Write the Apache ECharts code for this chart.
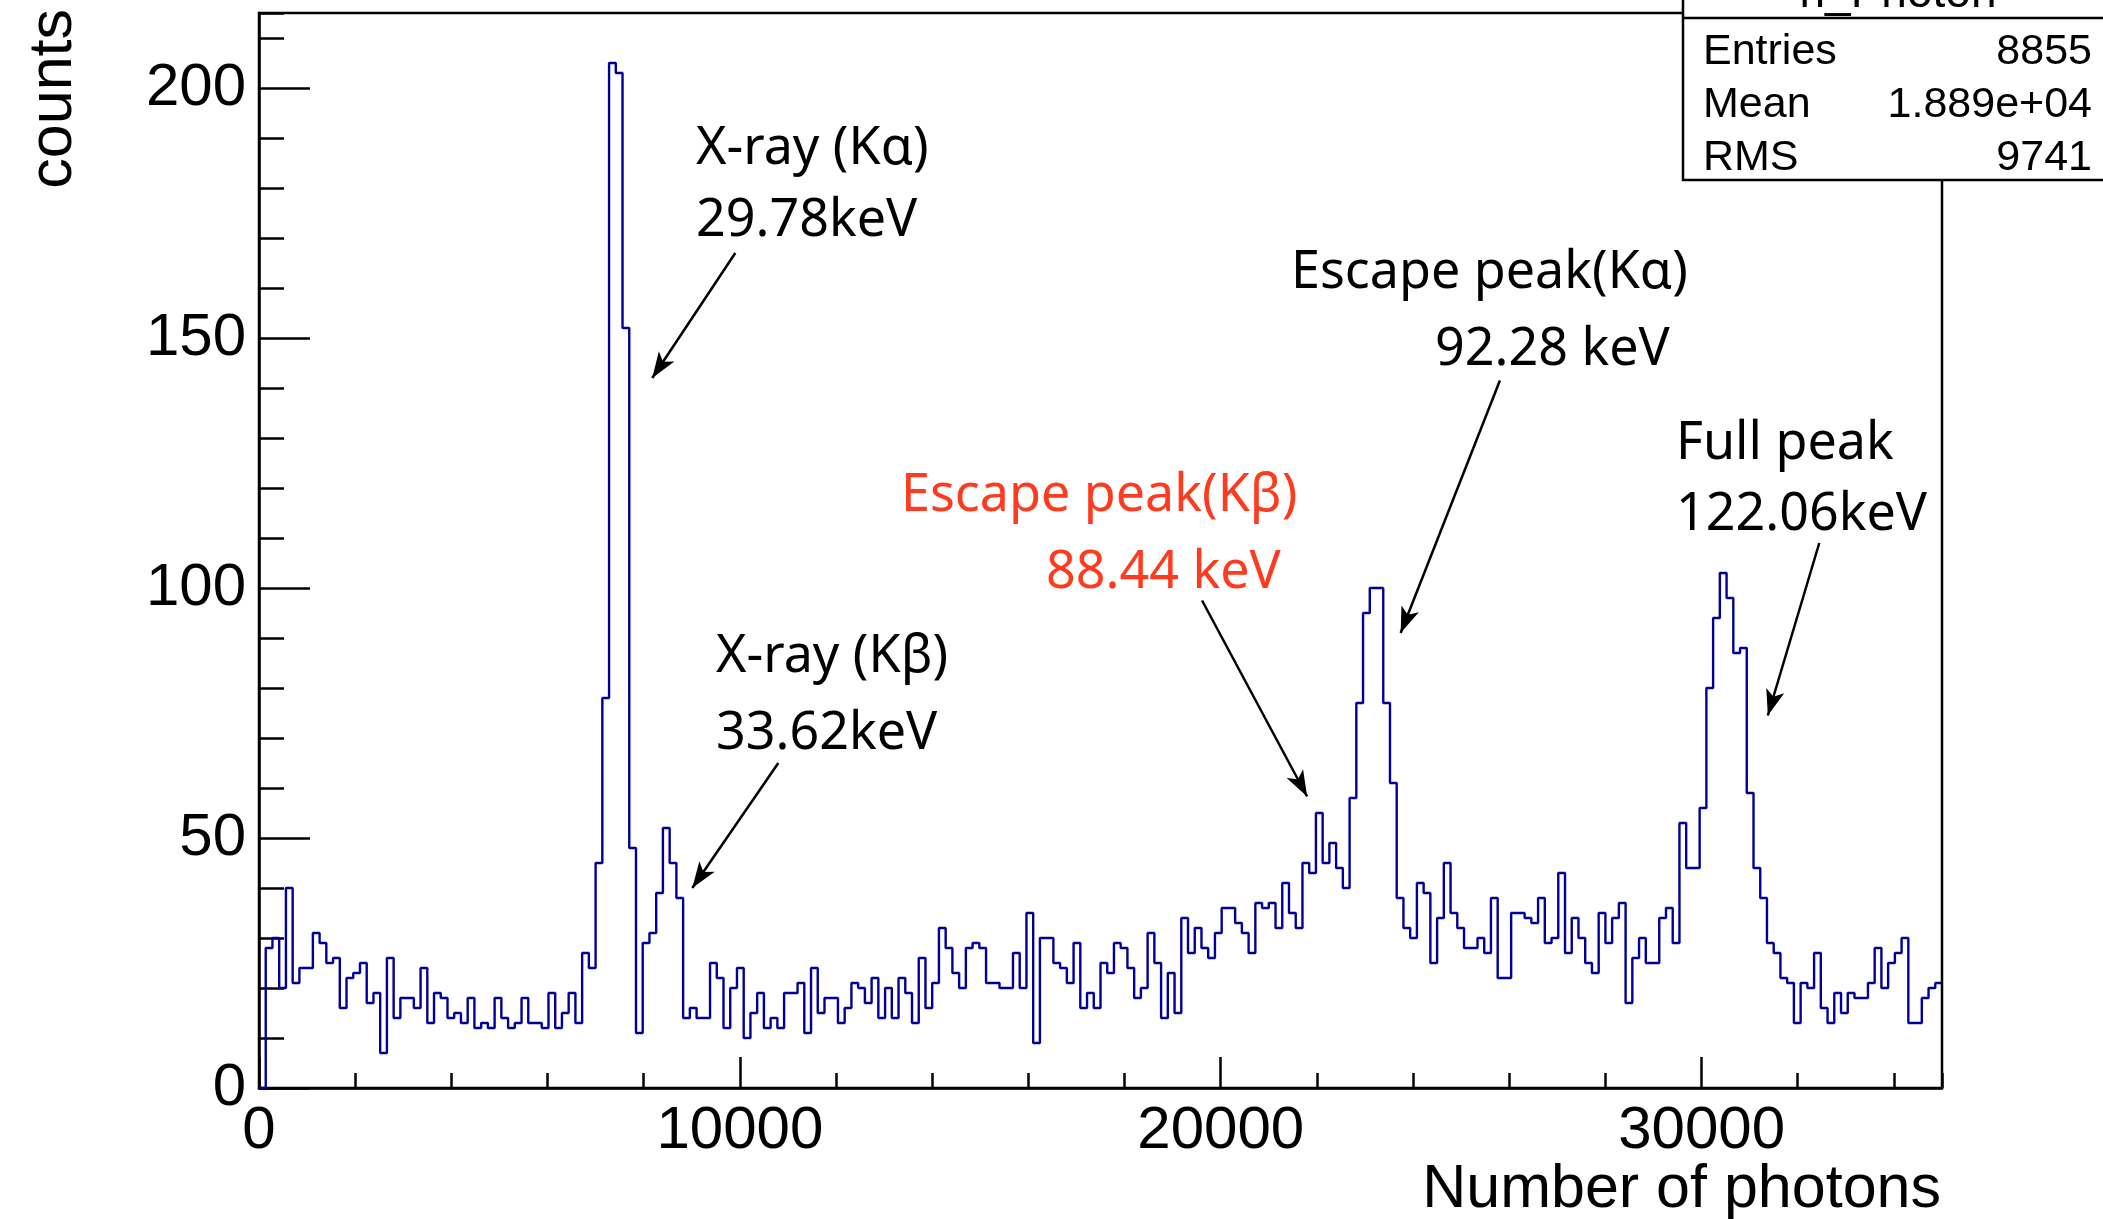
<!DOCTYPE html>
<html>
<head>
<meta charset="utf-8">
<script src="https://cdn.jsdelivr.net/npm/echarts@6/dist/echarts.min.js"></script>
<style>
  html, body { margin: 0; padding: 0; background: #fff; }
  #chart { width: 2103px; height: 1219px; }
</style>
</head>
<body>
<div id="chart"></div>
<script>
// --- binning and counts ---
const BIN_WIDTH = 140;
const X_MAX = 35000;
const Y_MAX = 215;

const counts0 = [0, 28, 30, 20, 40, 21, 24, 24, 31, 29, 25, 26, 16, 22, 23, 25, 17, 19, 7, 26,
  14, 18, 18, 16, 24, 13, 19, 18, 14, 15, 13, 18, 12, 13, 12, 18, 14, 12, 13, 18,
  13, 13, 12, 19, 12, 15, 19, 13, 27, 24];
const counts1 = [45, 78, 205, 203, 152, 48, 11, 29, 31, 39, 52, 45, 38, 14, 16, 14, 14, 25, 22, 12,
  20, 24, 10, 15, 19, 12, 14, 12, 19, 19, 21, 11, 24, 15, 18, 18, 13, 16, 21, 20,
  17, 22, 14, 20, 14, 22, 19, 13, 26, 16];
const counts2 = [21, 32, 28, 23, 20, 28, 29, 28, 21, 21, 20, 20, 27, 20, 35, 9, 30, 30, 25, 24,
  21, 29, 16, 19, 16, 25, 23, 29, 28, 24, 18, 20, 31, 25, 14, 23, 15, 34, 27, 32,
  28, 26, 31, 36, 36, 33, 31, 27, 37, 36];
const counts3 = [37, 32, 41, 35, 32, 45, 43, 55, 45, 49, 44, 40, 58, 77, 95, 100, 100, 77, 61, 38,
  32, 30, 41, 39, 25, 34, 45, 35, 32, 28, 28, 30, 27, 38, 22, 22, 35, 35, 34, 33,
  38, 29, 30, 43, 27, 34, 30, 25, 23, 35];
const counts4 = [29, 34, 37, 17, 26, 30, 25, 25, 34, 36, 29, 53, 44, 44, 56, 80, 94, 103, 98, 87,
  88, 59, 44, 38, 29, 27, 22, 21, 13, 21, 20, 27, 16, 13, 19, 15, 19, 18, 18, 21,
  28, 20, 25, 27, 30, 13, 13, 18, 20, 21];

const counts = counts0.concat(counts1, counts2, counts3, counts4);

// stats box
const statNames = ["Entries", "Mean", "RMS"];
const statValues = ["8855", "1.889e+04", "9741"];

// arrows [from, to] in data coordinates
const arrows = [
  [[9905, 167], [8178, 142]],
  [[10800, 65], [9011, 40]],
  [[19612, 97.5], [21797, 58.3]],
  [[25806, 141.5], [23742, 91]],
  [[32448, 109], [31378, 74.5]],
];

const AXIS_FONT = "'Liberation Sans', Arial, sans-serif";
const NOTE_FONT = "'Noto Sans', sans-serif";
const RED = "#ff3b1f";

// annotation texts: [text, x, y, color]
const notes = [
  ["X-ray (K\u03b1)", 696, 149, "#000"],
  ["29.78keV", 696, 221, "#000"],
  ["Escape peak(K\u03b1)", 1291, 273, "#000"],
  ["92.28 keV", 1435, 350, "#000"],
  ["Full peak", 1676, 444, "#000"],
  ["122.06keV", 1676, 515, "#000"],
  ["Escape peak(K\u03b2)", 901, 496, RED],
  ["88.44 keV", 1046, 573, RED],
  ["X-ray (K\u03b2)", 716, 657, "#000"],
  ["33.62keV", 716, 734, "#000"],
];

const steps = counts.map((c, i) => [i * BIN_WIDTH, c]);
steps.push([counts.length * BIN_WIDTH, counts[counts.length - 1]]);

const chart = echarts.init(document.getElementById("chart"));

const GRID = { left: 259, top: 13, width: 1683, height: 1075 };
const boxLeft = 1683;

function valueAxis(interval, tickLen, withLabels, max) {
  return {
    type: "value",
    min: 0,
    max: max,
    interval: interval,
    splitLine: { show: false },
    axisLine: { show: withLabels, lineStyle: { color: "#000", width: 2.5 } },
    axisTick: { show: true, inside: true, length: tickLen, lineStyle: { color: "#000", width: 2.5 } },
    axisLabel: {
      show: withLabels,
      showMaxLabel: false,
      color: "#000",
      fontFamily: AXIS_FONT,
      fontSize: 60,
      formatter: (v) => String(v),
    },
  };
}

const xMajor = valueAxis(10000, 31, true, X_MAX);
xMajor.position = "bottom";
xMajor.axisLabel.margin = 13;
const xMinor = valueAxis(2000, 15, false, X_MAX);
xMinor.position = "bottom";
const yMajor = valueAxis(50, 51, true, Y_MAX);
yMajor.position = "left";
yMajor.axisLabel.margin = 13;
const yMinor = valueAxis(10, 25, false, Y_MAX);
yMinor.position = "left";

const graphics = [];
notes.forEach(([t, x, y, col]) => {
  graphics.push({
    type: "text", x: x, y: y, z: 50,
    style: { text: t, fill: col, font: "52px " + NOTE_FONT, textAlign: "left", textVerticalAlign: "middle" },
  });
});

// axis titles
graphics.push({
  type: "text", x: 54, y: 9, rotation: Math.PI / 2, z: 50,
  style: { text: "counts", fill: "#000", font: "61px " + AXIS_FONT, textAlign: "right", textVerticalAlign: "middle" },
});
graphics.push({
  type: "text", x: 1941, y: 1190, z: 50,
  style: { text: "Number of photons", fill: "#000", font: "61px " + AXIS_FONT, textAlign: "right", textVerticalAlign: "middle" },
});

// stats box
graphics.push({
  type: "rect", z: 60,
  shape: { x: boxLeft, y: -20, width: 2103 - boxLeft + 20, height: 200 },
  style: { fill: "#fff", stroke: "#000", lineWidth: 2.5 },
});
graphics.push({
  type: "line", z: 61,
  shape: { x1: boxLeft, y1: 18, x2: 2103, y2: 18 },
  style: { stroke: "#000", lineWidth: 2.5 },
});
graphics.push({
  type: "text", x: 1898, y: 17, z: 61,
  style: { text: "h_Photon", fill: "#000", font: "46px " + AXIS_FONT, textAlign: "center", textVerticalAlign: "bottom" },
});
statNames.forEach((n, i) => {
  graphics.push({
    type: "text", x: 1703, y: 52 + i * 53, z: 61,
    style: { text: n, fill: "#000", font: "43px " + AXIS_FONT, textAlign: "left", textVerticalAlign: "middle" },
  });
  graphics.push({
    type: "text", x: 2092, y: 52 + i * 53, z: 61,
    style: { text: statValues[i], fill: "#000", font: "43px " + AXIS_FONT, textAlign: "right", textVerticalAlign: "middle" },
  });
});

chart.setOption({
  animation: false,
  backgroundColor: "#fff",
  grid: Object.assign({ show: true, borderColor: "#000", borderWidth: 2.5, backgroundColor: "transparent" }, GRID),
  xAxis: [xMajor, xMinor],
  yAxis: [yMajor, yMinor],
  series: [
    {
      type: "line",
      step: "end",
      data: steps,
      showSymbol: false,
      symbol: "none",
      lineStyle: { color: "#000099", width: 2.4 },
      z: 5,
    },
    {
      type: "line",
      data: [],
      symbol: "none",
      markLine: {
        silent: true,
        symbol: ["none", "arrow"],
        symbolSize: [14, 26],
        label: { show: false },
        lineStyle: { color: "#000", width: 2.5, type: "solid" },
        data: arrows.map(([a, b]) => [{ coord: a }, { coord: b }]),
      },
    },
  ],
  graphic: graphics,
});
</script>
</body>
</html>
